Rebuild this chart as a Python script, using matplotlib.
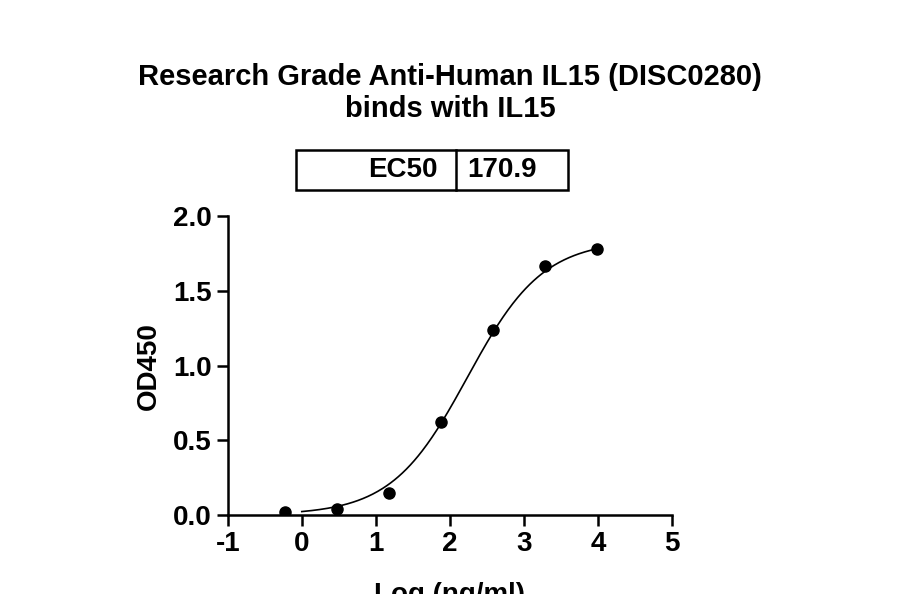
import numpy as np
import matplotlib
matplotlib.use("Agg")
import matplotlib.pyplot as plt

plt.rcParams["font.family"] = ["Liberation Sans", "DejaVu Sans"]
plt.rcParams["font.weight"] = "bold"
plt.rcParams["axes.unicode_minus"] = False

log_conc = [-0.22, 0.48, 1.18, 1.88, 2.58, 3.28, 3.98]
od450 = [0.02, 0.04, 0.15, 0.62, 1.24, 1.67, 1.78]
ec50 = 170.9
top, bottom, hill = 1.84, 0.0, 0.85

fig = plt.figure(figsize=(9, 5.94), dpi=100)
ax = fig.add_axes([0.253, 0.133, 0.494, 0.503])

xs = np.linspace(0.0, 3.98, 300)
ys = bottom + (top - bottom) / (1 + 10 ** ((np.log10(ec50) - xs) * hill))
ax.plot(xs, ys, color="black", lw=1.2)
ax.plot(log_conc, od450, "o", color="black", ms=8)

ax.set_xlim(-1, 5)
ax.set_ylim(0, 2.0)
ax.set_xticks(range(-1, 6))
ax.set_yticks([0, 0.5, 1.0, 1.5, 2.0])
ax.set_yticklabels(["0.0", "0.5", "1.0", "1.5", "2.0"])
for s in ["top", "right"]:
    ax.spines[s].set_visible(False)
for s in ["left", "bottom"]:
    ax.spines[s].set_linewidth(1.8)
ax.tick_params(width=1.8, length=8, labelsize=20)
ax.set_ylabel("OD450", fontsize=20, fontweight="bold", labelpad=8)
ax.set_xlabel("Log (ng/ml)", fontsize=20, fontweight="bold", labelpad=18)

fig.text(0.5, 0.843, "Research Grade Anti-Human IL15 (DISC0280)\nbinds with IL15",
         ha="center", va="center", fontsize=21, fontweight="bold", linespacing=1.2)

# EC50 box
bx0, bx1, bdiv = 296 / 900, 568 / 900, 456 / 900
by0, by1 = 1 - 190 / 594, 1 - 150 / 594
fig.add_artist(plt.Rectangle((bx0, by0), bx1 - bx0, by1 - by0, fill=False, lw=1.8,
                             transform=fig.transFigure))
fig.add_artist(plt.Line2D([bdiv, bdiv], [by0, by1], lw=1.8, color="black",
                          transform=fig.transFigure))
fig.text(bdiv - 0.02, (by0 + by1) / 2, "EC50", ha="right", va="center", fontsize=20)
fig.text(bdiv + 0.012, (by0 + by1) / 2, f"{ec50}", ha="left", va="center", fontsize=20)

fig.savefig("out.png", dpi=100)
